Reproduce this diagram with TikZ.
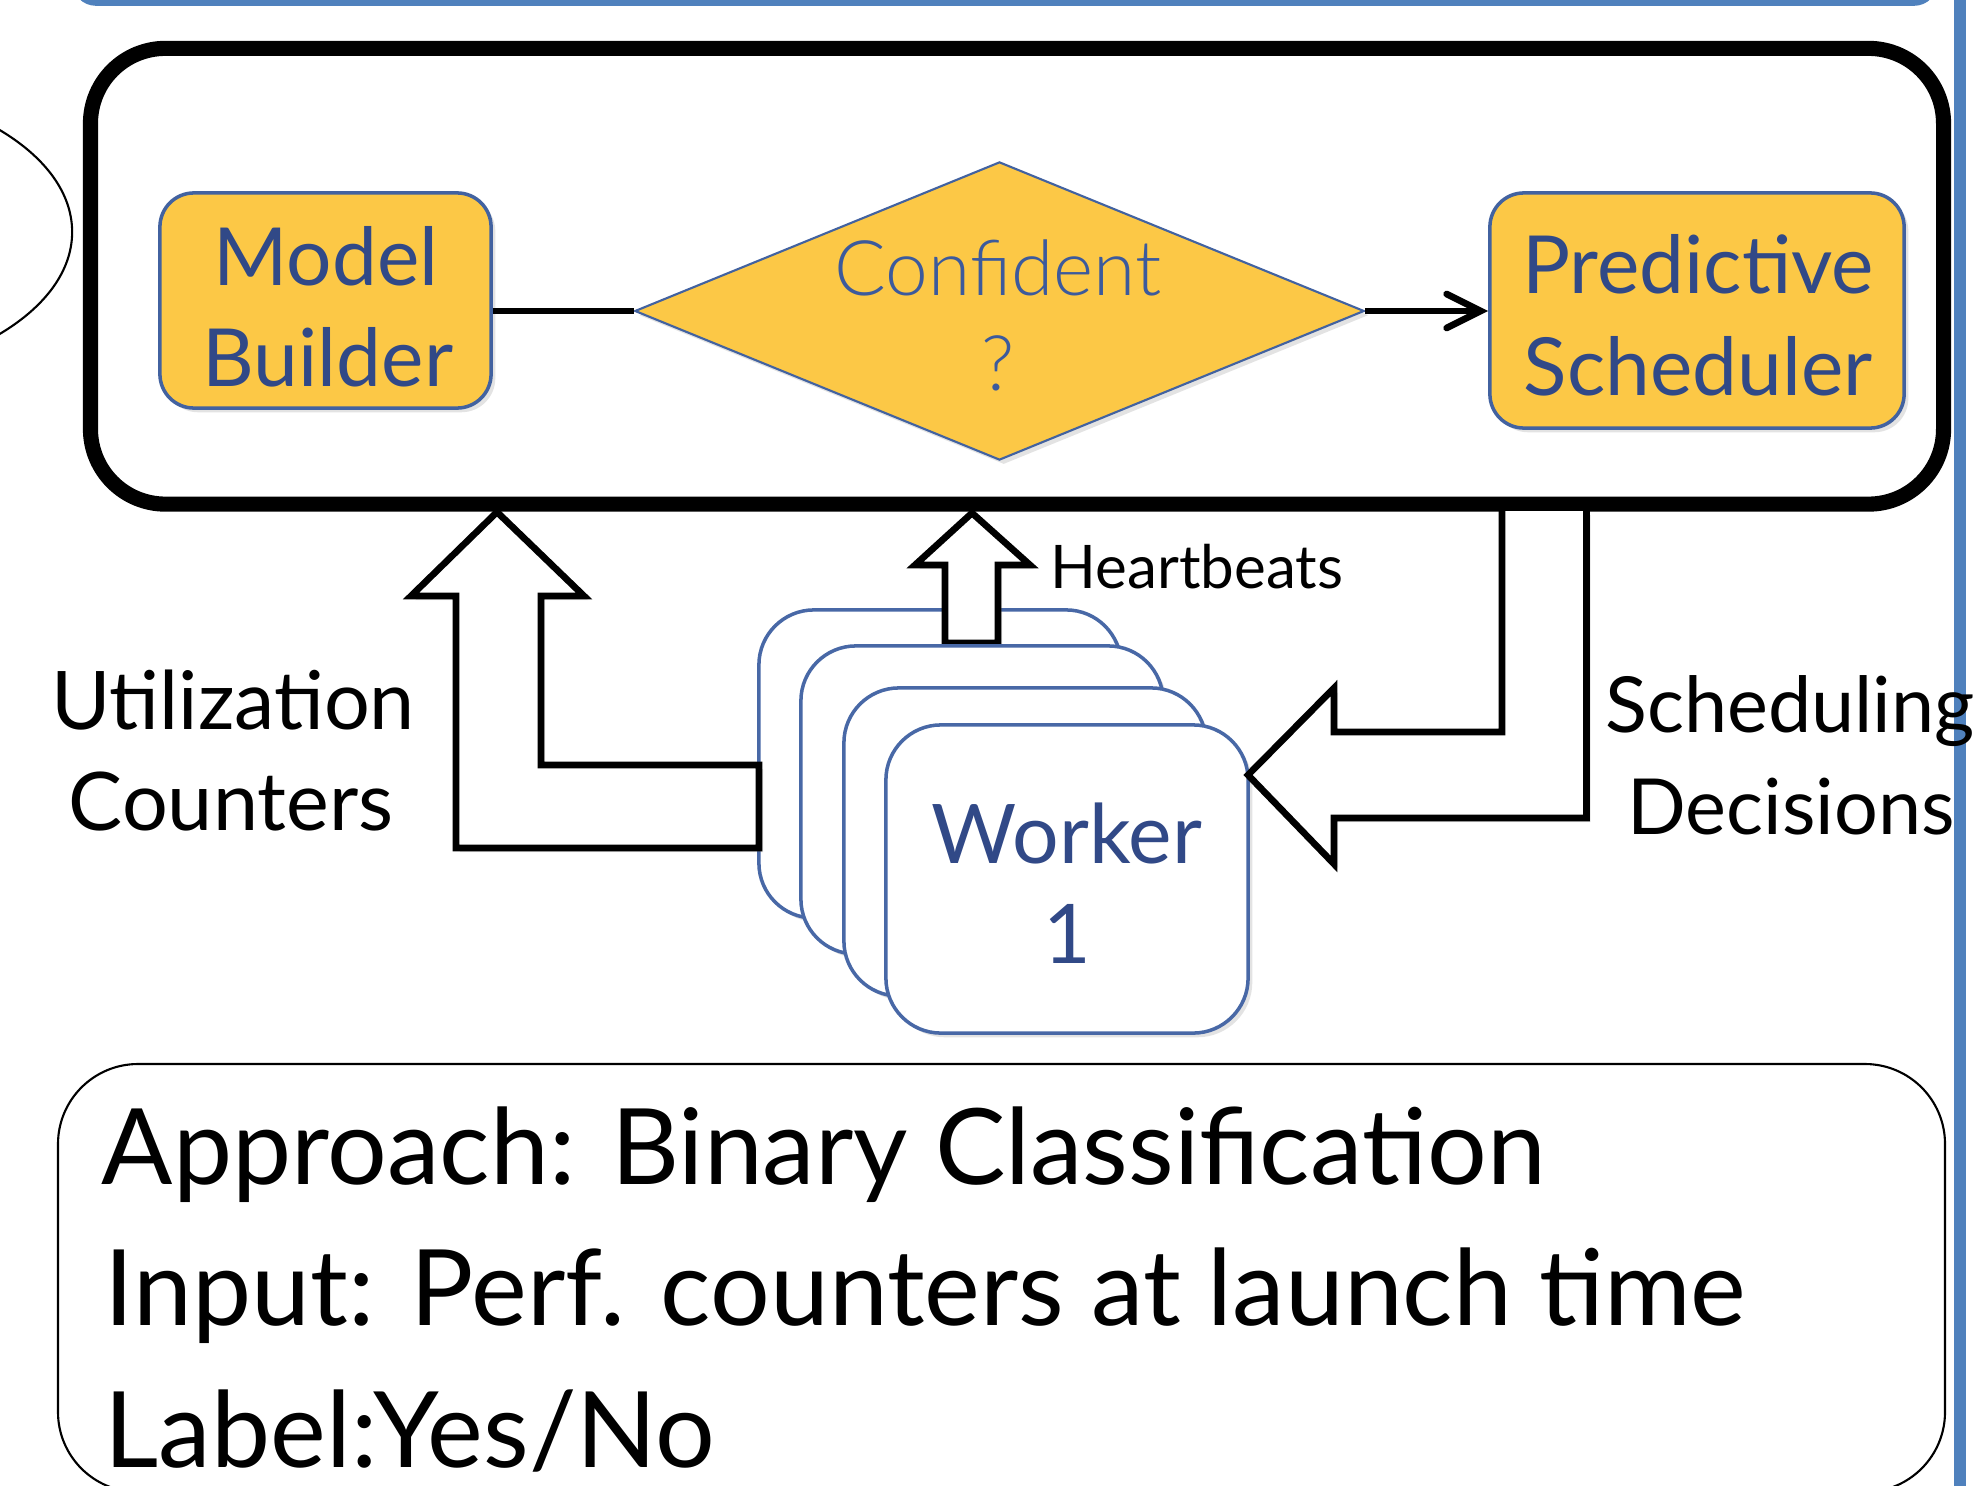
\documentclass[tikz,border=0pt]{standalone}
\usepackage{fontspec}
\usetikzlibrary{shapes.geometric,arrows.meta,shadows}
\newfontfamily\gill{Lato}
\newfontfamily\gilllight{Lato Light}
\definecolor{gold}{RGB}{252,200,70}
\definecolor{boxblue}{RGB}{66,98,160}
\definecolor{navy}{RGB}{49,73,135}
\definecolor{confblue}{RGB}{60,90,156}
\definecolor{frameblue}{RGB}{79,129,189}
\definecolor{cardblue}{RGB}{72,104,166}
\begin{document}
\begin{tikzpicture}[x=0.01cm,y=-0.01cm,
  frame/.style={draw=frameblue, line width=3.3pt},
  softshadow/.style={drop shadow={shadow xshift=1.2pt, shadow yshift=-1.2pt, opacity=0.22}},
  mainbox/.style={draw=black, line width=4.3pt, fill=white, rounded corners=0.75cm, inner sep=0, softshadow},
  goldbox/.style={draw=boxblue, line width=1pt, fill=gold, rounded corners=0.34cm, inner sep=0, softshadow},
  decision/.style={diamond, draw=boxblue, line width=0.6pt, fill=gold, inner sep=0, minimum width=7.29cm, minimum height=2.98cm, softshadow},
  card/.style={draw=cardblue, line width=1pt, fill=white, rounded corners=0.55cm, inner sep=0, minimum width=3.62cm, minimum height=3.08cm, softshadow},
  fat/.style={draw=black, line width=1.9pt, fill=white, line join=miter, softshadow},
  link/.style={draw=black, line width=1.9pt},
  boxtxt/.style={text=navy, font=\gill\fontsize{22.8}{27}\selectfont, anchor=base, inner sep=0},
  conftxt/.style={text=confblue, font=\gilllight\fontsize{21.8}{26}\selectfont, anchor=base, inner sep=0},
  labtxt/.style={text=black, font=\gill\fontsize{23}{27}\selectfont, anchor=base, inner sep=0},
  worktxt/.style={text=navy, font=\gill\fontsize{23.4}{28}\selectfont, anchor=base, inner sep=0},
  bigtxt/.style={text=black, font=\gill\fontsize{30}{36}\selectfont, anchor=base west, inner sep=0}
]
\useasboundingbox (0,0) rectangle (1979,1485);
\begin{scope}
\clip (0,0) rectangle (1979,1485);

% frame pieces at the edges
\draw[frame, rounded corners=0.18cm] (78,-120) rectangle (1932,0);
\draw[frame] (1960,-10) -- (1960,1495);

% ellipse at the left edge
\draw[black, line width=0.6pt] (-200,232) ellipse [x radius=2.72cm, y radius=1.5cm];

% main rounded box
\node[mainbox, minimum width=18.52cm, minimum height=4.555cm] (main) at (1017,276.25) {};

% model builder, decision, scheduler
\node[goldbox, minimum width=3.31cm, minimum height=2.15cm] (mb) at (325.5,300.5) {};
\node[decision] (conf) at (999.5,311) {};
\node[goldbox, minimum width=4.14cm, minimum height=2.35cm] (ps) at (1697,310.5) {};

\draw[link] (mb.east |- conf.west) -- (conf.west);
\draw[link, -{Straight Barb[length=0.34cm, width=0.34cm, line cap=round]}] (conf.east) -- (ps.west |- conf.east);

\node[boxtxt] (mbt1) at (326,285) {Model};
\node[boxtxt] (mbt2) at (328,386) {Builder};
\node[boxtxt] (pst1) at (1698,293) {Predictive};
\node[boxtxt] (pst2) at (1698,395) {Scheduler};
\node[conftxt] (ct1) at (998,295) {Confident};
\node[conftxt] (ct2) at (998,390) {?};

% worker stack, back card first
\node[card] (w1) at (940,764) {};
\draw[fat] (497,512) -- (584,596) -- (541,596) -- (541,765) -- (759,765)
  -- (759,848) -- (456,848) -- (456,596) -- (411,596) -- cycle;
\draw[fat] (972,513) -- (1030,565) -- (998,565) -- (998,643) -- (945,643)
  -- (945,565) -- (915,565) -- cycle;
\node[card] (w2) at (982,800) {};
\node[card] (w3) at (1025,842) {};
\node[card] (w4) at (1067,879) {};
\node[worktxt] (wt1) at (1067,863) {Worker};
\node[worktxt] (wt2) at (1067,963) {1};

% scheduling decisions arrow
\draw[fat] (1502,511) -- (1502,732) -- (1334,732) -- (1334,688) -- (1248,775)
  -- (1334,864) -- (1334,818) -- (1586.5,818) -- (1586.5,511);

% labels
\node[labtxt, font=\gill\fontsize{17.1}{20}\selectfont, anchor=base west] (hb) at (1050,588) {Heartbeats};
\node[labtxt] (ut1) at (233,729) {Utilization};
\node[labtxt] (ut2) at (231,830) {Counters};
\node[labtxt, font=\gill\fontsize{22}{26}\selectfont] (sd1) at (1790,732) {Scheduling};
\node[labtxt, font=\gill\fontsize{22}{26}\selectfont] (sd2) at (1791,834) {Decisions};

% bottom box
\draw[black, line width=0.6pt, rounded corners=0.8cm] (58,1064) rectangle (1945,1492);
\node[bigtxt] (bt1) at (101,1184) {Approach: Binary Classification};
\node[bigtxt] (bt2) at (104,1325) {Input: Perf. counters at launch time};
\node[bigtxt] (bt3) at (104,1467) {Label:Yes/No};
\end{scope}
\end{tikzpicture}
\end{document}
